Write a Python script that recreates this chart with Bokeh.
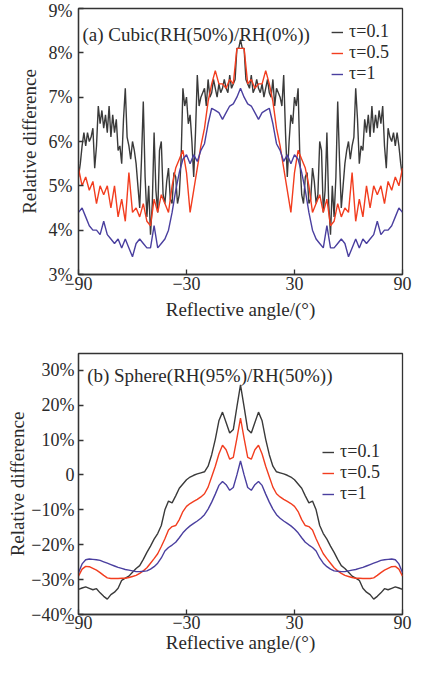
from bokeh.plotting import figure
from bokeh.layouts import column
from bokeh.models import Range1d, FixedTicker, Legend, LegendItem, Label
from bokeh.embed import file_html
from bokeh.resources import INLINE

# ---------------- data: panel (a) Cubic ----------------
angle_a_fine = list(range(-90, 91, 1))
angle_a = list(range(-90, 91, 2))

cubic_tau01 = [
    5.2, 5.5, 5.9, 6.2, 5.9, 6.2, 6.0, 6.1, 6.3, 5.4,
    5.9, 6.8, 6.4, 6.7, 6.3, 6.6, 6.2, 6.8, 6.1, 6.6,
    6.2, 6.5, 5.8, 5.9, 5.5, 6.5, 7.2, 6.1, 5.9, 5.6,
    6.0, 5.8, 5.5, 5.0, 4.5, 5.6, 6.9, 5.2, 4.3, 5.0,
    3.9, 4.6, 6.2, 4.9, 4.4, 5.8, 6.0, 4.8, 4.6, 5.1,
    5.4, 4.7, 4.6, 5.3, 5.2, 4.6, 4.8, 5.6, 7.2, 6.8,
    7.0, 6.4, 6.6, 6.0, 5.2, 6.2, 7.5, 6.8, 7.0, 7.1,
    7.2, 6.8, 7.4, 7.0, 7.1, 7.4, 7.2, 7.0, 7.3, 7.1,
    7.2, 7.4, 7.2, 7.1, 7.5, 7.2, 7.3, 7.4, 8.1, 8.1,
    8.3,
    8.1, 8.1, 7.4, 7.3, 7.2, 7.5, 7.1, 7.2, 7.4, 7.2,
    7.1, 7.3, 7.0, 7.2, 7.4, 7.1, 7.0, 7.4, 6.8, 7.2,
    7.1, 7.0, 6.8, 7.5, 6.2, 5.2, 6.0, 6.6, 6.4, 7.0,
    6.8, 7.2, 5.6, 4.8, 4.6, 5.2, 5.3, 4.6, 4.7, 5.4,
    5.1, 4.6, 4.8, 6.0, 5.8, 4.4, 4.9, 6.2, 4.6, 3.9,
    5.0, 4.3, 5.2, 6.9, 5.6, 4.5, 5.0, 5.5, 5.8, 6.0,
    5.6, 5.9, 6.1, 7.2, 6.5, 5.5, 5.9, 5.8, 6.5, 6.2,
    6.6, 6.1, 6.8, 6.2, 6.6, 6.3, 6.7, 6.4, 6.8, 5.9,
    5.4, 6.3, 6.1, 6.0, 6.2, 5.9, 6.2, 5.9, 5.5, 5.2,
]

cubic_tau05 = [
    5.4, 5.0, 5.2, 4.9, 5.1, 4.6, 5.0, 4.8, 5.0, 4.5,
    5.0, 4.3, 4.7, 4.2, 5.3, 4.4, 4.5, 4.3, 4.6, 4.2,
    4.1, 4.7, 4.4, 4.8, 4.6, 4.4, 5.0, 5.4, 5.6, 5.8,
    5.3, 4.4, 4.9, 5.4, 5.9, 6.3, 6.9, 7.3, 7.6, 7.3,
    7.3, 7.2, 7.4, 7.3, 8.1, 8.1,
    8.1, 7.3, 7.4, 7.2, 7.3,
    7.3, 7.6, 7.3, 6.9, 6.3, 5.9, 5.4, 4.9, 4.4, 5.3,
    5.8, 5.6, 5.4, 5.0, 4.4, 4.6, 4.8, 4.4, 4.7, 4.1,
    4.2, 4.6, 4.3, 4.5, 4.4, 5.3, 4.2, 4.7, 4.3, 5.0,
    4.5, 5.0, 4.8, 5.0, 4.6, 5.1, 4.9, 5.2, 5.0, 5.4,
]

cubic_tau1 = [
    4.4, 4.5, 4.3, 4.1, 4.0, 4.0, 3.9, 4.2, 3.9, 3.8,
    3.7, 3.8, 3.6, 3.8, 3.6, 3.4, 3.7, 3.8, 3.7, 3.6,
    3.6, 4.1, 3.6, 3.7, 3.8, 4.0, 4.4, 4.9, 5.3, 5.6,
    5.7, 5.5, 5.7, 5.55, 5.8, 5.95, 6.4, 6.75, 6.7, 6.65,
    6.5, 6.65, 6.8, 6.85, 7.0, 7.2,
    7.0, 6.85, 6.8, 6.65, 6.5,
    6.65, 6.7, 6.75, 6.4, 5.95, 5.8, 5.55, 5.7, 5.5, 5.7,
    5.6, 5.3, 4.9, 4.4, 4.0, 3.8, 3.7, 3.6, 4.1, 3.6,
    3.6, 3.7, 3.8, 3.7, 3.4, 3.6, 3.8, 3.6, 3.8, 3.7,
    3.8, 3.9, 4.2, 3.9, 4.0, 4.0, 4.1, 4.3, 4.5, 4.4,
]

# ---------------- data: panel (b) Sphere ----------------
angle_b = list(range(-90, 91, 2))

sphere_tau01 = [
    -32.8, -32.4, -32.1, -32.5, -32.9, -32.6, -33.8, -34.8, -35.6, -34.3,
    -33.6, -32.5, -30.2, -29.6, -29.0, -27.9, -26.8, -26.0, -24.2, -22.2,
    -20.4, -18.4, -16.8, -14.5, -10.0, -7.5, -8.0, -6.0, -3.8, -2.6,
    -1.4, -0.6, -0.1, 0.3, 0.6, 0.9, 2.5, 5.8, 10.2, 15.5,
    18.0, 15.0, 12.0, 13.0, 19.5, 25.8,
    19.5, 13.0, 12.0, 15.0, 18.0,
    15.5, 10.2, 5.8, 2.5, 0.9, 0.6, 0.3, -0.1, -0.6, -1.4,
    -2.6, -3.8, -6.0, -8.0, -7.5, -10.0, -14.5, -16.8, -18.4, -20.4,
    -22.2, -24.2, -26.0, -26.8, -27.9, -29.0, -29.6, -30.2, -32.5, -33.6,
    -34.3, -35.6, -34.8, -33.8, -32.6, -32.9, -32.5, -32.1, -32.4, -32.8,
]

sphere_tau05 = [
    -29.0, -27.0, -26.2, -26.3, -26.8, -27.3, -28.0, -28.8, -29.5, -29.7,
    -29.7, -29.7, -29.6, -29.6, -29.4, -29.1, -28.8, -28.2, -27.5, -26.6,
    -25.3, -24.0, -22.6, -20.5, -18.3, -15.8, -14.8, -14.5, -12.8, -10.5,
    -9.0, -8.2, -7.6, -7.0, -6.3, -5.4, -3.5, -0.5, 2.5, 6.0,
    8.5, 7.2, 4.5, 5.0, 10.5, 16.3,
    10.5, 5.0, 4.5, 7.2, 8.5,
    6.0, 2.5, -0.5, -3.5, -5.4, -6.3, -7.0, -7.6, -8.2, -9.0,
    -10.5, -12.8, -14.5, -14.8, -15.8, -18.3, -20.5, -22.6, -24.0, -25.3,
    -26.6, -27.5, -28.2, -28.8, -29.1, -29.4, -29.6, -29.6, -29.7, -29.7,
    -29.7, -29.5, -28.8, -28.0, -27.3, -26.8, -26.3, -26.2, -27.0, -29.0,
]

sphere_tau1 = [
    -28.0, -25.5, -24.3, -24.1, -24.2, -24.3, -24.5, -24.9, -25.3, -25.7,
    -26.1, -26.5, -26.8, -27.1, -27.3, -27.5, -27.7, -27.7, -27.6, -27.5,
    -27.0, -26.3, -25.3, -23.8, -21.8, -20.8, -20.1, -19.3, -18.0, -16.6,
    -15.5, -14.6, -13.9, -13.2, -12.4, -11.4, -9.8, -7.8, -5.5, -3.0,
    -1.9, -2.8, -4.4, -3.6, 0.0, 4.0,
    0.0, -3.6, -4.4, -2.8, -1.9,
    -3.0, -5.5, -7.8, -9.8, -11.4, -12.4, -13.2, -13.9, -14.6, -15.5,
    -16.6, -18.0, -19.3, -20.1, -20.8, -21.8, -23.8, -25.3, -26.3, -27.0,
    -27.5, -27.6, -27.7, -27.7, -27.5, -27.3, -27.1, -26.8, -26.5, -26.1,
    -25.7, -25.3, -24.9, -24.5, -24.3, -24.2, -24.1, -24.3, -25.5, -28.0,
]

x_ticks = [-90, -30, 30, 90]
x_tick_labels = {-90: "\u221290", -30: "\u221230", 30: "30", 90: "90"}
ya_ticks = [3, 4, 5, 6, 7, 8, 9]
ya_tick_labels = {3: "3%", 4: "4%", 5: "5%", 6: "6%", 7: "7%", 8: "8%", 9: "9%"}
yb_ticks = [-40, -30, -20, -10, 0, 10, 20, 30]
yb_tick_labels = {-40: "\u221240%", -30: "\u221230%", -20: "\u221220%", -10: "\u221210%",
                  0: "0", 10: "10%", 20: "20%", 30: "30%"}
series_labels = ["\u03c4=0.1", "\u03c4=0.5", "\u03c4=1"]

FONT = "Liberation Serif"
COL_K = "#3a3a3a"
COL_R = "#f23d1f"
COL_B = "#4a3f9f"
TXT = "#2a2a2a"


def style(p):
    p.outline_line_color = "#333333"
    p.outline_line_width = 1.3
    p.xgrid.visible = False
    p.ygrid.visible = False
    for ax in (p.xaxis[0], p.yaxis[0]):
        ax.axis_line_color = "#333333"
        ax.axis_line_width = 1.3
        ax.major_tick_in = 5
        ax.major_tick_out = 0
        ax.major_tick_line_color = "#333333"
        ax.major_tick_line_width = 1.3
        ax.minor_tick_line_color = None
        ax.major_label_text_font = FONT
        ax.major_label_text_font_size = "18px"
        ax.major_label_text_color = TXT
        ax.axis_label_text_font = FONT
        ax.axis_label_text_font_size = "19px"
        ax.axis_label_text_font_style = "normal"
        ax.axis_label_text_color = TXT
    p.xaxis[0].ticker = FixedTicker(ticks=x_ticks)
    p.xaxis[0].major_label_overrides = x_tick_labels
    p.xaxis[0].axis_label = "Reflective angle/(\u00b0)"
    p.yaxis[0].axis_label = "Relative difference"


def make_legend(p, rends, loc, margin=0):
    items = [LegendItem(label=lab, renderers=[r]) for lab, r in zip(series_labels, rends)]
    lg = Legend(items=items, location=loc)
    lg.background_fill_alpha = 0
    lg.border_line_alpha = 0
    lg.label_text_font = FONT
    lg.label_text_font_size = "18px"
    lg.label_text_color = TXT
    lg.glyph_width = 12
    lg.glyph_height = 20
    lg.label_height = 20
    lg.label_standoff = 6
    lg.spacing = 0
    lg.padding = 0
    lg.margin = margin
    p.add_layout(lg)


# ---------------- panel (a) ----------------
p1 = figure(width=412, height=332, x_range=Range1d(-90, 90), y_range=Range1d(3, 9),
            output_backend="svg", toolbar_location=None,
            min_border_left=70, min_border_right=10, min_border_top=8, min_border_bottom=58)
style(p1)
p1.yaxis[0].ticker = FixedTicker(ticks=ya_ticks)
p1.yaxis[0].major_label_overrides = ya_tick_labels
p1.yaxis[0].major_label_standoff = 6
p1.yaxis[0].axis_label_standoff = 6
p1.xaxis[0].major_label_standoff = 2
p1.xaxis[0].axis_label_standoff = 6

ra1 = p1.line(angle_a_fine, cubic_tau01, line_color=COL_K, line_width=1.4)
ra2 = p1.line(angle_a, cubic_tau05, line_color=COL_R, line_width=1.4)
ra3 = p1.line(angle_a, cubic_tau1, line_color=COL_B, line_width=1.4)
make_legend(p1, [ra1, ra2, ra3], "top_right", margin=13)
p1.add_layout(Label(x=-87.8, y=8.41, text="(a)  Cubic(RH(50%)/RH(0%))",
                    text_font=FONT, text_font_size="19px", text_color=TXT,
                    text_baseline="alphabetic"))

# ---------------- panel (b) ----------------
p2 = figure(width=412, height=332, x_range=Range1d(-90, 90), y_range=Range1d(-40, 34.8),
            output_backend="svg", toolbar_location=None,
            min_border_left=78, min_border_right=10, min_border_top=21, min_border_bottom=50)
style(p2)
p2.yaxis[0].ticker = FixedTicker(ticks=yb_ticks)
p2.yaxis[0].major_label_overrides = yb_tick_labels
p2.yaxis[0].major_label_standoff = 4
p2.yaxis[0].axis_label_standoff = 0
p2.xaxis[0].major_label_standoff = 1
p2.xaxis[0].axis_label_standoff = 0

rb1 = p2.line(angle_b, sphere_tau01, line_color=COL_K, line_width=1.4)
rb2 = p2.line(angle_b, sphere_tau05, line_color=COL_R, line_width=1.4)
rb3 = p2.line(angle_b, sphere_tau1, line_color=COL_B, line_width=1.4)
make_legend(p2, [rb1, rb2, rb3], (244, 110))
p2.add_layout(Label(x=-85.2, y=28.6, text="(b)  Sphere(RH(95%)/RH(50%))",
                    text_font=FONT, text_font_size="19px", text_color=TXT,
                    text_baseline="alphabetic"))

layout = column(p1, p2, spacing=0)
open("out.html", "w").write(file_html(layout, INLINE))
